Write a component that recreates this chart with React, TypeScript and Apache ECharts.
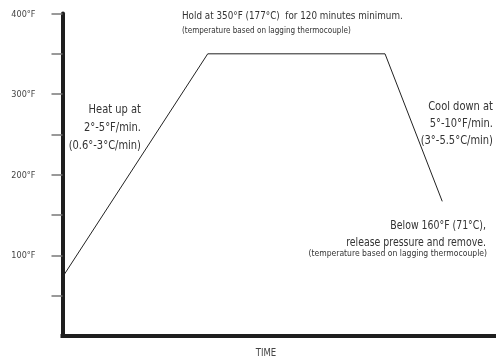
import React, { useEffect, useRef } from "react";
import * as echarts from "echarts";

const timePoints = [0, 33.5, 74.4, 87.6];
const tempPoints = [73, 350, 350, 167];
const yTickValues = [50, 100, 150, 200, 250, 300, 350, 400];
const yLabelValues = [100, 200, 300, 400];
const xAxisName = "TIME";
const holdNote = "Hold at 350°F (177°C)  for 120 minutes minimum.";
const lagNote = "(temperature based on lagging thermocouple)";
const heatLines = ["Heat up at", "2°-5°F/min.", "(0.6°-3°C/min)"];
const coolLines = ["Cool down at", "5°-10°F/min.", "(3°-5.5°C/min)"];
const belowLines = ["Below 160°F (71°C),", "release pressure and remove."];

const FONT = "'Liberation Sans Narrow', 'DejaVu Sans Condensed', 'DejaVu Sans', sans-serif";

export default function App() {
  const ref = useRef<HTMLDivElement>(null);
  useEffect(() => {
    const chart = echarts.init(ref.current!, null, { renderer: "svg" });
    const txt = (text: string, x: number, y: number, size: number, align: string, sx: number, fill = "#333") => ({
      type: "text",
      x,
      y,
      scaleX: sx,
      style: {
        text,
        fontSize: size,
        fontFamily: FONT,
        fill,
        align,
        verticalAlign: "middle",
      },
    });
    const graphics: any[] = [
      txt(holdNote, 182, 15, 11, "left", 0.89),
      txt(lagNote, 182, 30, 8.5, "left", 0.95),
      ...heatLines.map((t, i) => txt(t, 141, 109 + i * 18, 12, "right", 0.92)),
      ...coolLines.map((t, i) => txt(t, 493, 106 + i * 17, 12, "right", 0.92)),
      ...belowLines.map((t, i) => txt(t, 486, 225 + i * 17, 12, "right", 0.87)),
      txt(lagNote, 487, 253, 9, "right", 0.95),
      txt(xAxisName, 266, 352, 10, "center", 0.95, "#444"),
    ];
    chart.setOption({
      animation: false,
      grid: { left: 62.5, right: 0, top: 13.5, bottom: 22 },
      xAxis: {
        type: "value",
        min: 0,
        max: 100,
        axisLine: { show: true, lineStyle: { color: "#1e1e1e", width: 4, cap: "square" } },
        axisTick: { show: false },
        axisLabel: { show: false },
        splitLine: { show: false },
      },
      yAxis: {
        type: "value",
        min: 0,
        max: 400,
        axisLine: { show: true, lineStyle: { color: "#1e1e1e", width: 4 } },
        axisTick: {
          show: true,
          length: 11,
          customValues: yTickValues,
          lineStyle: { color: "#777", width: 1.5 },
        },
        axisLabel: {
          show: true,
          customValues: yLabelValues,
          formatter: (v: number) => `${v}°F`,
          margin: 27,
          fontFamily: FONT,
          fontSize: 9,
          color: "#444",
        },
        splitLine: { show: false },
      },
      series: [
        {
          type: "line",
          data: timePoints.map((t, i) => [t, tempPoints[i]]),
          symbol: "none",
          lineStyle: { color: "#222", width: 1 },
        },
      ],
      graphic: graphics,
    });
    return () => chart.dispose();
  }, []);
  return (
    <div
      ref={ref}
      style={{ position: "fixed", left: 0, top: 0, width: 496, height: 358 }}
    />
  );
}
